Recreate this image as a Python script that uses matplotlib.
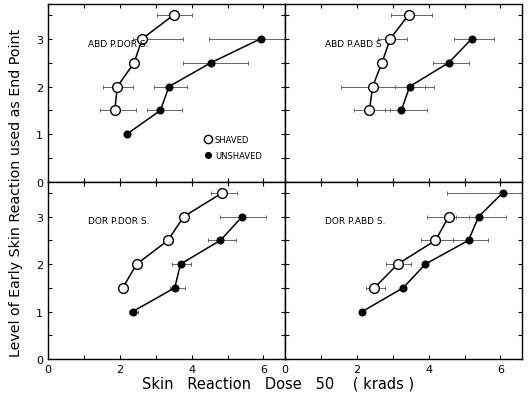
import matplotlib
matplotlib.use("Agg")
import matplotlib.pyplot as plt
import numpy as np

# ---------------------------------------------------------------------------
# Data (dose in krads, level of early skin reaction)
# ---------------------------------------------------------------------------
panel_titles = ["ABD P.DOR S.", "ABD P.ABD S", "DOR P.DOR S.", "DOR P.ABD S."]

# Abd P.Dor S.
tl_sh_x = [3.50, 2.62, 2.40, 1.93, 1.86]
tl_sh_y = [3.5, 3.0, 2.5, 2.0, 1.5]
tl_sh_lo = [3.04, 2.38, np.nan, 1.53, 1.45]
tl_sh_hi = [4.02, 3.77, np.nan, 2.37, 2.45]
tl_un_x = [5.92, 4.54, 3.37, 3.13, 2.19]
tl_un_y = [3.0, 2.5, 2.0, 1.5, 1.0]
tl_un_lo = [4.47, 3.77, 2.95, 2.76, np.nan]
tl_un_hi = [6.80, 5.58, 3.88, 3.72, np.nan]

# Abd P.Abd S
tr_sh_x = [3.44, 2.93, 2.70, 2.44, 2.35]
tr_sh_y = [3.5, 3.0, 2.5, 2.0, 1.5]
tr_sh_lo = [2.96, 2.59, np.nan, 1.57, 1.92]
tr_sh_hi = [4.09, 3.40, np.nan, 3.91, 2.92]
tr_un_x = [5.20, 4.56, 3.47, 3.24]
tr_un_y = [3.0, 2.5, 2.0, 1.5]
tr_un_lo = [4.71, 4.11, 3.05, 2.78]
tr_un_hi = [5.83, 5.11, 4.14, 3.95]

# Dor P.Dor S.
bl_sh_x = [4.85, 3.78, 3.34, 2.47, 2.08]
bl_sh_y = [3.5, 3.0, 2.5, 2.0, 1.5]
bl_sh_lo = [4.54, np.nan, np.nan, np.nan, np.nan]
bl_sh_hi = [5.25, np.nan, np.nan, np.nan, np.nan]
bl_un_x = [5.41, 4.80, 3.69, 3.53, 2.36]
bl_un_y = [3.0, 2.5, 2.0, 1.5, 1.0]
bl_un_lo = [4.80, 4.45, 3.44, 3.39, 2.26]
bl_un_hi = [6.08, 5.24, 3.97, 3.81, 2.50]

# Dor P.Abd S.
br_sh_x = [4.56, 4.19, 3.14, 2.49]
br_sh_y = [3.0, 2.5, 2.0, 1.5]
br_sh_lo = [3.94, 3.79, 2.80, 2.26]
br_sh_hi = [5.13, 4.67, 3.52, 2.78]
br_un_x = [6.06, 5.39, 5.11, 3.91, 3.29, 2.15]
br_un_y = [3.5, 3.0, 2.5, 2.0, 1.5, 1.0]
br_un_lo = [4.51, 4.76, 4.69, np.nan, np.nan, np.nan]
br_un_hi = [6.70, 6.16, 5.64, np.nan, np.nan, np.nan]

panels = [
    (tl_sh_x, tl_sh_y, tl_sh_lo, tl_sh_hi, tl_un_x, tl_un_y, tl_un_lo, tl_un_hi),
    (tr_sh_x, tr_sh_y, tr_sh_lo, tr_sh_hi, tr_un_x, tr_un_y, tr_un_lo, tr_un_hi),
    (bl_sh_x, bl_sh_y, bl_sh_lo, bl_sh_hi, bl_un_x, bl_un_y, bl_un_lo, bl_un_hi),
    (br_sh_x, br_sh_y, br_sh_lo, br_sh_hi, br_un_x, br_un_y, br_un_lo, br_un_hi),
]


def draw_errors(ax, x, y, lo, hi):
    x = np.asarray(x)
    lo = np.asarray(lo)
    hi = np.asarray(hi)
    ok = ~np.isnan(lo)
    xerr = np.vstack([x[ok] - lo[ok], hi[ok] - x[ok]])
    ax.errorbar(x[ok], np.asarray(y)[ok], xerr=xerr, fmt="none",
                ecolor="0.4", elinewidth=0.7, capsize=1.5, capthick=0.7,
                zorder=2, clip_on=True)


fig = plt.figure(figsize=(5.3, 4.02), dpi=100)
x0, xm, x1 = 0.0906, 0.5377, 0.985
y0, ym, y1 = 0.1045, 0.5448, 0.9876
rects = [
    [x0, ym, xm - x0, y1 - ym],
    [xm, ym, x1 - xm, y1 - ym],
    [x0, y0, xm - x0, ym - y0],
    [xm, y0, x1 - xm, ym - y0],
]

for i, (rect, title, data) in enumerate(zip(rects, panel_titles, panels)):
    ax = fig.add_axes(rect)
    sx, sy, slo, shi, ux, uy, ulo, uhi = data
    draw_errors(ax, sx, sy, slo, shi)
    draw_errors(ax, ux, uy, ulo, uhi)
    ax.plot(sx, sy, "-o", color="black", lw=1.1, ms=7, mfc="white",
            mec="black", mew=1.0, zorder=3, label="SHAVED")
    ax.plot(ux, uy, "-o", color="black", lw=1.1, ms=4.8, mfc="black",
            mec="black", zorder=3, label="UNSHAVED")
    ax.text(0.17, 0.78, title, transform=ax.transAxes, fontsize=6.5,
            va="center", ha="left")

    ax.set_xlim(0, 6.6)
    ax.set_ylim(0, 3.73)
    ax.set_xticks(np.arange(0, 7, 1))
    ax.set_xticklabels(["0", "", "2", "", "4", "", "6"])
    ax.set_yticks(np.arange(0, 4, 1))
    ax.set_yticks(np.arange(0.5, 3.6, 1), minor=True)
    ax.tick_params(which="both", direction="in", top=True, right=True,
                   length=3, width=0.8, labelsize=8)
    if i in (0, 1):
        ax.tick_params(labelbottom=False)
    if i in (1, 3):
        ax.tick_params(labelleft=False)
    for sp in ax.spines.values():
        sp.set_linewidth(1.0)

    if i == 0:
        ax.legend(loc="lower left", bbox_to_anchor=(0.63, 0.08), frameon=False,
                  fontsize=6, handlelength=0.8, handletextpad=0.4,
                  labelspacing=0.9, markerscale=0.85)
        leg = ax.get_legend()
        for line in leg.get_lines():
            line.set_linestyle("")

fig.text(0.03, 0.52, "Level of Early Skin Reaction used as End Point",
         rotation=90, ha="center", va="center", fontsize=10.3)
fig.text(0.525, 0.045, "Skin   Reaction   Dose   50    ( krads )",
         ha="center", va="center", fontsize=10.5)

fig.savefig("out.png", dpi=100)
